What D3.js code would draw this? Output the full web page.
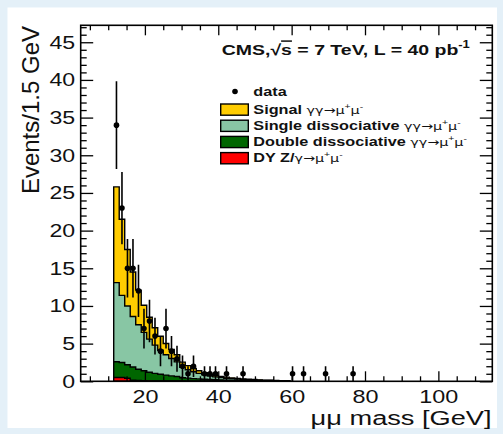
<!DOCTYPE html>
<html><head><meta charset="utf-8">
<script src="https://cdn.jsdelivr.net/npm/d3@7"></script>
<style>
html,body{margin:0;padding:0;background:#e4f0f8;}
svg{display:block;}
text{font-family:"Liberation Sans",Arial,Helvetica,sans-serif;}
</style></head>
<body><svg id="c" width="503" height="434"></svg>
<script>
// ---- data ----
const binStart = 11.5, binWidth = 1.5;
const dataCounts = [34,23,15,15,12,7,8,6,4,7,4,3,2,1,2,0,1,1,1,0,1,0,0,1,0,0,0,0,0,0,0,0,1,0,1,0,0,0,1,0,0,0,0,1];
const signal = [12.7,10.1,7.5,5.9,4.6,3.6,2.9,2.3,1.85,1.5,1.2,0.95,0.68,0.54,0.43,0.36,0.29,0.24,0.2,0.16,0.14,0.11,0.09,0.08,0.07,0.05,0.04,0.035,0.03,0.025,0.02,0.02];
const singleDiss = [10.5,8.9,7.8,6.7,5.9,5.1,4.4,3.75,3.2,2.7,2.3,1.95,1.38,1.12,0.9,0.73,0.58,0.47,0.38,0.31,0.26,0.21,0.18,0.14,0.12,0.1,0.08,0.06,0.05,0.04,0.03,0.03];
const doubleDiss = [2.1,2.0,1.8,1.75,1.5,1.32,1.14,1.0,0.88,0.78,0.68,0.6,0.45,0.4,0.34,0.3,0.26,0.23,0.2,0.18,0.15,0.14,0.12,0.1,0.09,0.08,0.07,0.06,0.05,0.04,0.03,0.03];
const dyBkg = [0.5,0.5,0.4,0.15,0.1,0.08,0.06,0.05,0.05,0.04,0.04,0.03,0.03,0.02,0.02,0.02,0.02,0.01,0.01,0.01,0,0,0,0,0,0,0,0,0,0,0,0];
const xMajorTicks = [20,40,60,80,100];
const xMinorTicks = [5,10,15,25,30,35,45,50,55,65,70,75,85,90,95,105,110];
const yMajorTicks = [0,5,10,15,20,25,30,35,40,45];
const yMinorTicks = d3.range(0,48,1).filter(v=>v%5!==0);
const legendItems = [
  {key:"sig", label:"Signal", proc:"γγ→μ", color:"#ffcc00"},
  {key:"sd", label:"Single dissociative", proc:"γγ→μ", color:"#88c6a4"},
  {key:"dd", label:"Double dissociative", proc:"γγ→μ", color:"#006600"},
  {key:"dy", label:"DY Z/", proc:"γ→μ", color:"#ff0000"}
];

// ---- layout ----
const svg = d3.select("#c");
const L=80.7, R=492.3, T=25.3, B=381.3;
const x = d3.scaleLinear().domain([2.5,114.7]).range([L,R]);
const y = d3.scaleLinear().domain([0,47.25]).range([B,T]);
const ink = "#111";

svg.append("rect").attr("x",7.5).attr("y",7.5).attr("width",489.5).attr("height",420.5).attr("fill","#fff");

svg.append("clipPath").attr("id","pc").append("rect").attr("x",L).attr("y",T).attr("width",R-L).attr("height",B-T);
const plot = svg.append("g").attr("clip-path","url(#pc)");

// stacked histogram
const rows = signal.map((_,i)=>({dy:dyBkg[i],dd:doubleDiss[i],sd:singleDiss[i],sig:signal[i]}));
const stack = d3.stack().keys(["dy","dd","sd","sig"])(rows);
const colorOf = Object.fromEntries(legendItems.map(d=>[d.key,d.color]));
const line = d3.line().x(p=>x(p[0])).y(p=>y(p[1]));
stack.slice().reverse().forEach(layer=>{
  const pts=[];
  layer.forEach((d,i)=>{const lo=binStart+i*binWidth; pts.push([lo,d[1]],[lo+binWidth,d[1]]);});
  const full=[[pts[0][0],0],...pts,[pts[pts.length-1][0],0]];
  plot.append("path").attr("d",line(full)+"Z").attr("fill",colorOf[layer.key])
    .attr("stroke","#000").attr("stroke-width",1.4).attr("stroke-linejoin","miter");
});

// data points
const pts = dataCounts.map((n,i)=>({m:binStart+(i+0.5)*binWidth,n})).filter(d=>d.n>0);
plot.selectAll("line.err").data(pts).join("line").attr("class","err")
  .attr("x1",d=>x(d.m)).attr("x2",d=>x(d.m))
  .attr("y1",d=>y(d.n-Math.sqrt(d.n))).attr("y2",d=>y(d.n+Math.sqrt(d.n)))
  .attr("stroke","#000").attr("stroke-width",1.6);
plot.selectAll("circle.pt").data(pts).join("circle").attr("class","pt")
  .attr("cx",d=>x(d.m)).attr("cy",d=>y(d.n)).attr("r",2.8).attr("fill","#000");

// axes
function clean(g){g.select(".domain").remove(); g.selectAll(".tick line").attr("stroke","#000").attr("stroke-width",1.3);}
svg.append("g").attr("transform",`translate(0,${B})`)
  .call(d3.axisBottom(x).tickValues(xMajorTicks).tickSize(-10).tickPadding(8.5).tickFormat(d3.format("d")))
  .call(clean).call(g=>g.selectAll("text").attr("fill",ink).attr("font-size",18).attr("transform","scale(1.3,1)"));
svg.append("g").attr("transform",`translate(0,${B})`)
  .call(d3.axisBottom(x).tickValues(xMinorTicks).tickSize(-5).tickFormat("")).call(clean);
svg.append("g").attr("transform",`translate(0,${T})`)
  .call(d3.axisTop(x).tickValues(xMajorTicks).tickSize(-10).tickFormat("")).call(clean);
svg.append("g").attr("transform",`translate(0,${T})`)
  .call(d3.axisTop(x).tickValues(xMinorTicks).tickSize(-5).tickFormat("")).call(clean);
svg.append("g").attr("transform",`translate(${L},0)`)
  .call(d3.axisLeft(y).tickValues(yMajorTicks).tickSize(-12.5).tickFormat(d3.format("d")))
  .call(clean).call(g=>g.selectAll("text").attr("fill",ink).attr("font-size",18.5).attr("x",0)
     .attr("transform","translate(-5.5,0) scale(1.25,1)"));
svg.append("g").attr("transform",`translate(${L},0)`)
  .call(d3.axisLeft(y).tickValues(yMinorTicks).tickSize(-6).tickFormat("")).call(clean);
svg.append("g").attr("transform",`translate(${R},0)`)
  .call(d3.axisRight(y).tickValues(yMajorTicks).tickSize(-12.5).tickFormat("")).call(clean);
svg.append("g").attr("transform",`translate(${R},0)`)
  .call(d3.axisRight(y).tickValues(yMinorTicks).tickSize(-6).tickFormat("")).call(clean);

svg.append("rect").attr("x",L).attr("y",T).attr("width",R-L).attr("height",B-T)
  .attr("fill","none").attr("stroke","#000").attr("stroke-width",1.6);

// axis titles
svg.append("text").attr("transform",`translate(491.5,425) scale(1.36,1)`).attr("text-anchor","end")
  .attr("font-size",20).attr("fill",ink).text("μμ mass [GeV]");
svg.append("text").attr("transform",`translate(39,26) rotate(-90)`).attr("text-anchor","end")
  .attr("font-size",24).attr("fill",ink).text("Events/1.5 GeV");

// title
const tt = svg.append("text").attr("transform","translate(221.7,55) scale(1.3,1)")
  .attr("font-size",15).attr("font-weight","bold").attr("fill",ink);
tt.append("tspan").text("CMS,√");
tt.append("tspan").attr("text-decoration","overline").text("s");
tt.append("tspan").text(" = 7 TeV, L = 40 pb");
tt.append("tspan").attr("font-size",10).attr("dy",-7).text("-1");

// legend
svg.append("circle").attr("cx",235).attr("cy",91.5).attr("r",2.8).attr("fill","#000");
svg.append("text").attr("transform","translate(253.3,95.7) scale(1.3,1)")
  .attr("font-size",12.5).attr("font-weight","bold").attr("fill",ink).text("data");
legendItems.forEach((d,i)=>{
  const top = 104 + i*16.2;
  svg.append("rect").attr("x",220.7).attr("y",top).attr("width",27.6).attr("height",11.2)
    .attr("fill",d.color).attr("stroke","#000").attr("stroke-width",1.4);
  const t = svg.append("text").attr("transform",`translate(253.3,${top+9.6}) scale(1.3,1)`)
    .attr("font-size",12.5).attr("fill",ink);
  t.append("tspan").attr("font-weight","bold").text(d.label+(d.key==="dy"?"":" "));
  t.append("tspan").attr("font-size",11).attr("font-family","DejaVu Sans").text(d.proc);
  t.append("tspan").attr("font-size",8).attr("dy",-5).text("+");
  t.append("tspan").attr("font-size",11).attr("font-family","DejaVu Sans").attr("dy",5).text("μ");
  t.append("tspan").attr("font-size",8).attr("dy",-5).text("-");
});
</script></body></html>
